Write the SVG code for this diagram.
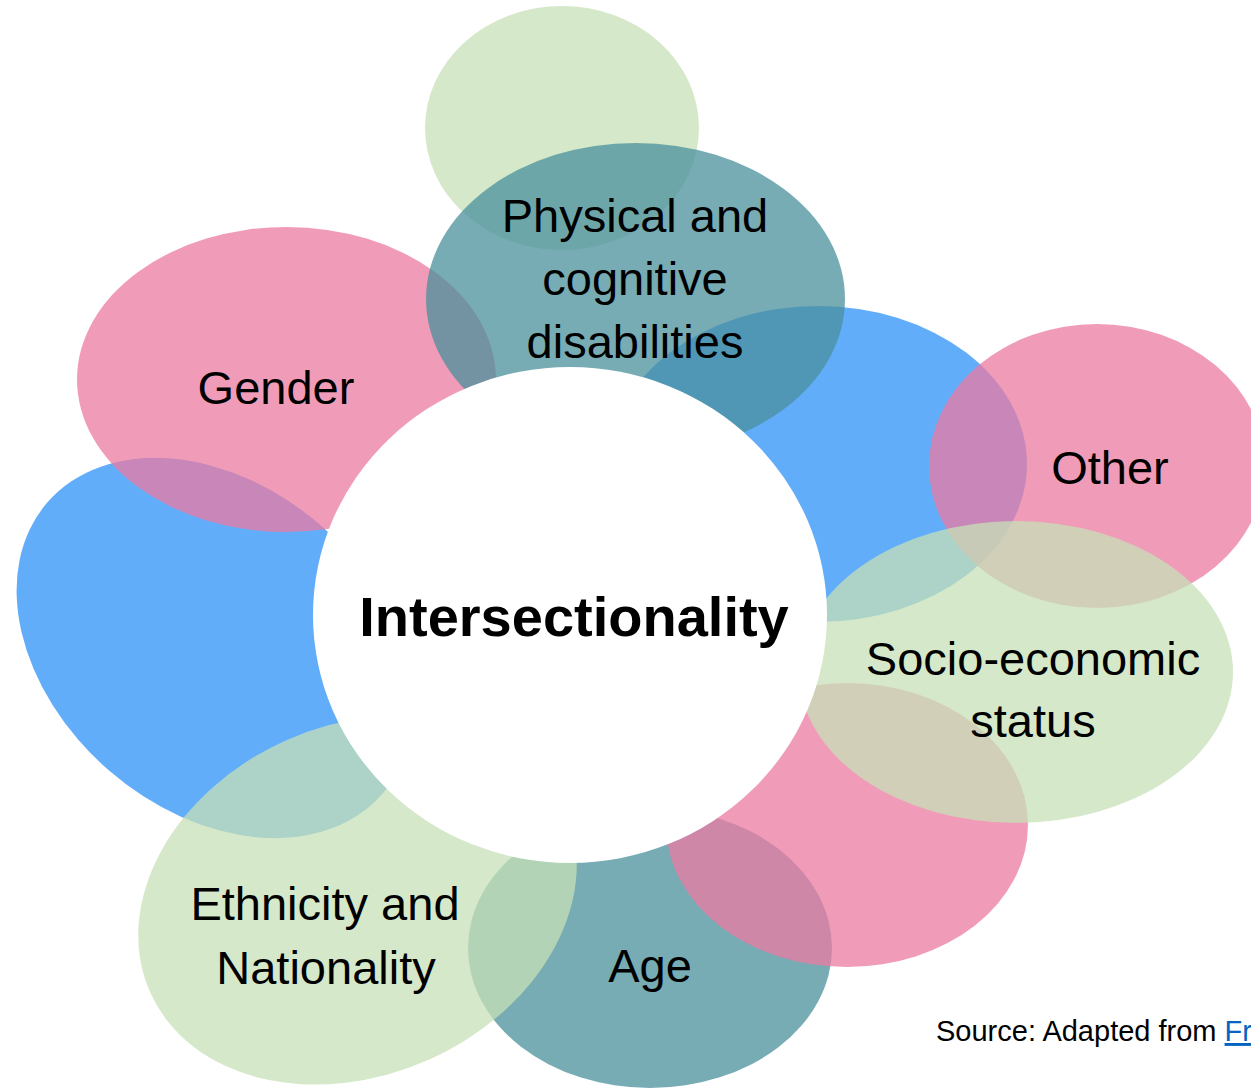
<svg xmlns="http://www.w3.org/2000/svg" width="1251" height="1088" viewBox="0 0 1251 1088">
<style>
.pink{fill:#eb7ba2;fill-opacity:.75}
.blue{fill:#2e92f8;fill-opacity:.75}
.green{fill:#c7e0b7;fill-opacity:.75}
.teal{fill:#4a909c;fill-opacity:.75}
.core{fill:#ffffff}
.lbl{font-family:"Liberation Sans",Arial,sans-serif;font-size:47px;fill:#000;text-anchor:middle}
.title{font-family:"Liberation Sans",Arial,sans-serif;font-size:56px;font-weight:bold;fill:#000;text-anchor:middle}
.src{font-family:"Liberation Sans",Arial,sans-serif;font-size:29px;fill:#000}
.link{fill:#0563c1;text-decoration:underline}
</style>
<rect width="1251" height="1088" fill="#ffffff"/>
<g id="top-bubble"><ellipse class="green" cx="562" cy="128" rx="137" ry="122"/></g>
<g id="left-bubble"><ellipse class="blue" cx="215" cy="648" rx="222" ry="162" transform="rotate(41 215 648)"/></g>
<g id="gender"><ellipse class="pink" cx="286.5" cy="379.5" rx="209.5" ry="152.5"/><text class="lbl" x="276" y="404">Gender</text></g>
<g id="right-bubble"><ellipse class="blue" cx="818" cy="464" rx="209" ry="158"/></g>
<g id="physical"><ellipse class="teal" cx="635.5" cy="299" rx="209.5" ry="156"/><text class="lbl" x="635" y="232">Physical and</text><text class="lbl" x="635" y="295">cognitive</text><text class="lbl" x="635" y="358">disabilities</text></g>
<g id="other"><ellipse class="pink" cx="1097" cy="466" rx="168" ry="142"/><text class="lbl" x="1110" y="484">Other</text></g>
<g id="age"><ellipse class="teal" cx="650" cy="948" rx="182" ry="140"/><text class="lbl" x="650" y="982">Age</text></g>
<g id="lower-right-bubble"><ellipse class="pink" cx="847" cy="825" rx="181" ry="142"/></g>
<g id="socio"><ellipse class="green" cx="1016" cy="672" rx="217" ry="151"/><text class="lbl" x="1033" y="675">Socio-economic</text><text class="lbl" x="1033" y="737">status</text></g>
<g id="ethnicity"><ellipse class="green" cx="357.5" cy="900" rx="227" ry="175" transform="rotate(-24 357.5 900)"/><text class="lbl" x="325" y="920">Ethnicity and</text><text class="lbl" x="326" y="984">Nationality</text></g>
<g id="intersectionality"><ellipse class="core" cx="570" cy="615" rx="257" ry="248"/><text class="title" x="574" y="636">Intersectionality</text></g>
<g id="connectors"></g>
<g id="source"><text class="src" x="936" y="1041">Source: Adapted from <tspan class="link">Fr</tspan></text></g>
</svg>
